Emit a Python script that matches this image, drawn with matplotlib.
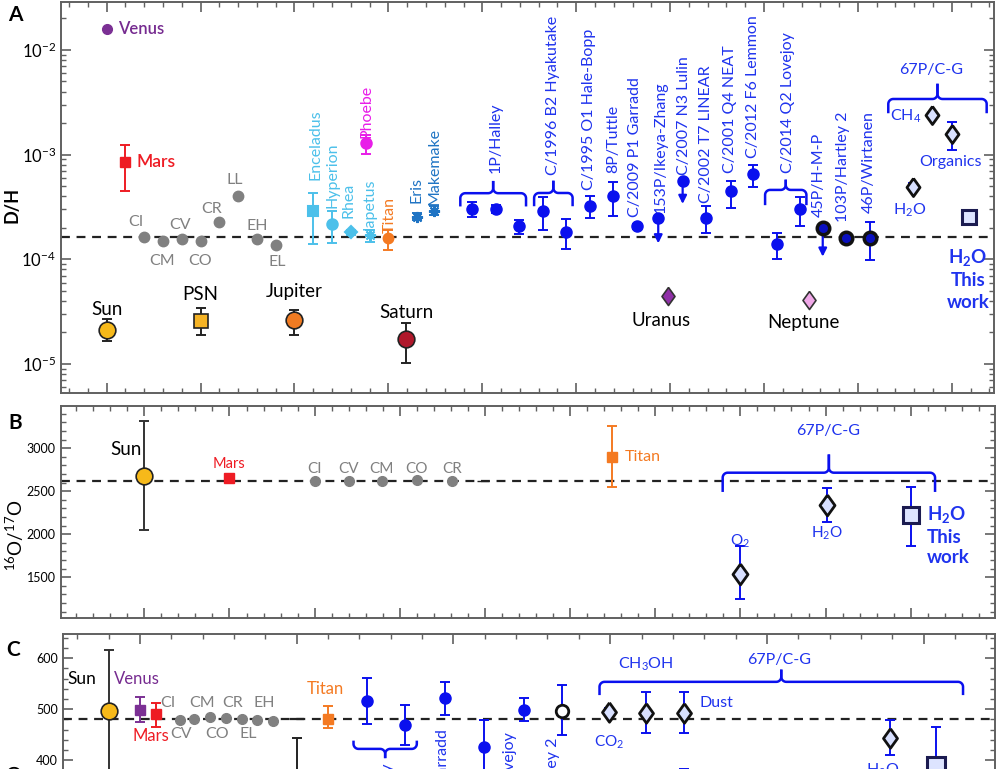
import numpy as np
import matplotlib
matplotlib.use('Agg')
import matplotlib.pyplot as plt
from matplotlib.transforms import IdentityTransform
from matplotlib.ticker import MultipleLocator, LogLocator, NullFormatter

plt.rcParams['font.family'] = ['Lato', 'DejaVu Sans']
plt.rcParams['mathtext.fontset'] = 'custom'
plt.rcParams['mathtext.rm'] = 'Lato'
plt.rcParams['mathtext.it'] = 'Lato:italic'
plt.rcParams['mathtext.bf'] = 'Lato:bold'

BLUE = '#0a10ee'
TBLUE = '#1f33ee'
GREY = '#808080'
LBLUE = '#4cc0ea'
DBLUE = '#1f74c4'
ORANGE = '#f47a22'
RED = '#ee1c24'
PURPLE = '#762b90'
FRAME = '#606060'

DIAM = [(0, 1), (0.72, 0), (0, -1), (-0.72, 0), (0, 1)]
H2O = r'H$_2$O'
H2O_BOLD = r'$\mathbf{H_2O}$'

# ---------------- panel A : D/H ----------------
big_names = ['Sun', 'PSN', 'Jupiter', 'Saturn']
big_x = [5, 10, 15, 20.94]
big_dh = [2.12e-5, 2.6e-5, 2.64e-5, 1.72e-5]
big_lo = [1.64e-5, 1.9e-5, 1.9e-5, 1.02e-5]
big_hi = [2.68e-5, 3.4e-5, 3.3e-5, 2.45e-5]
big_lab_y = [3.33e-5, 4.57e-5, 4.92e-5, 3.1e-5]

chon_names = ['CI', 'CM', 'CV', 'CO', 'CR', 'LL', 'EH', 'EL']
chon_x = [7, 8, 9, 10, 11, 12, 13, 14]
chon_dh = [1.65e-4, 1.48e-4, 1.57e-4, 1.48e-4, 2.26e-4, 4.04e-4, 1.56e-4, 1.37e-4]
chon_lab_dx = [-8, -1, -2, -1, -8, -3, 0, 2]
chon_lab_dy = [15, -20, 14, -20, 13, 16, 13, -17]

moon_names = ['Enceladus', 'Hyperion', 'Rhea', 'Iapetus', 'Titan', 'Phoebe', 'Eris', 'Makemake']
moon_x = [16, 17, 18, 19, 20, 18.8, 21.5, 22.45]
moon_dh = [2.92e-4, 2.16e-4, 1.82e-4, 1.69e-4, 1.59e-4, 1.30e-3, 2.56e-4, 2.92e-4]
moon_lo = [1.4e-4, 1.43e-4, 1.72e-4, 1.45e-4, 1.23e-4, 1.02e-3, 2.35e-4, 2.65e-4]
moon_hi = [4.3e-4, 2.9e-4, 1.92e-4, 1.92e-4, 1.91e-4, 1.54e-3, 2.75e-4, 3.2e-4]
moon_lab_x = [16.1, 17.05, 17.85, 18.98, 20.09, 18.84, 21.5, 22.48]
moon_lab_y = [5.73e-4, 3.08e-4, 2.48e-4, 1.91e-4, 1.79e-4, 1.43e-3, 3.46e-4, 3.31e-4]

venus_dh = 1.58e-2
mars_dh, mars_lo, mars_hi = 8.57e-4, 4.53e-4, 1.24e-3

comet_x = [24.47, 25.73, 26.95, 28.25, 29.46, 30.73, 31.94, 33.22, 34.37, 35.67,
           36.9, 38.23, 39.43, 40.71, 41.92]
comet_dh = [3.03e-4, 3.03e-4, 2.08e-4, 2.92e-4, 1.84e-4, 3.26e-4, 4.04e-4, 2.06e-4,
            2.47e-4, 5.61e-4, 2.47e-4, 4.53e-4, 6.55e-4, 1.40e-4, 3.0e-4]
comet_lo = [2.55e-4, 2.75e-4, 1.75e-4, 1.9e-4, 1.25e-4, 2.47e-4, 2.6e-4, 1.96e-4,
            1.42e-4, 3.38e-4, 1.8e-4, 3.1e-4, 4.9e-4, 1.0e-4, 2.1e-4]
comet_hi = [3.5e-4, 3.3e-4, 2.38e-4, 3.9e-4, 2.44e-4, 4.04e-4, 5.46e-4, 2.16e-4,
            2.47e-4, 5.61e-4, 3.2e-4, 5.6e-4, 7.9e-4, 1.8e-4, 3.9e-4]
comet_uplim = [0, 0, 0, 0, 0, 0, 0, 0, 1, 1, 0, 0, 0, 0, 0]

jfc_x = [43.13, 44.35, 45.64]
jfc_dh = [2.01e-4, 1.61e-4, 1.61e-4]
jfc_lo = [1.06e-4, 1.42e-4, 0.98e-4]
jfc_hi = [2.01e-4, 1.72e-4, 2.28e-4]
jfc_uplim = [1, 0, 0]

comet_labels = ['1P/Halley', 'C/1996 B2 Hyakutake', 'C/1995 O1 Hale-Bopp', '8P/Tuttle',
                'C/2009 P1 Garradd', '153P/Ikeya-Zhang', 'C/2007 N3 Lulin',
                'C/2002 T7 LINEAR', 'C/2001 Q4 NEAT', 'C/2012 F6 Lemmon',
                'C/2014 Q2 Lovejoy', '45P/H-M-P', '103P/Hartley 2', '46P/Wirtanen']
comet_lab_x = [25.72, 28.79, 30.68, 31.95, 33.15, 34.51, 35.74, 36.9, 38.17, 39.4,
               41.28, 42.94, 44.2, 45.56]
comet_lab_y = [6.64e-4, 6.4e-4, 4.6e-4, 6.64e-4, 2.56e-4, 2.76e-4, 6.4e-4, 3.43e-4,
               6.64e-4, 9.24e-4, 6.64e-4, 2.56e-4, 2.29e-4, 2.76e-4]

cg_names = [H2O, r'CH$_4$', 'Organics']
cg_x = [47.92, 48.96, 49.99]
cg_dh = [4.94e-4, 2.4e-3, 1.58e-3]
cg_lo = [4.6e-4, 2.3e-3, 1.11e-3]
cg_hi = [5.3e-4, 2.5e-3, 2.06e-3]
cg_lab_x = [47.75, 47.56, 49.93]
cg_lab_y = [2.97e-4, 2.31e-3, 8.57e-4]
this_x, this_dh = 50.93, 2.52e-4

ice_names = ['Uranus', 'Neptune']
ice_x = [34.87, 42.41]
ice_dh = [4.47e-5, 4.09e-5]
ice_lab_x = [34.54, 42.12]
ice_lab_y = [2.6e-5, 2.48e-5]

dh_ref = 1.63e-4

# ---------------- panel B : 16O/17O ----------------
b_sun = (0, 2678, 2050, 3320)
b_mars = (5, 2660)
b_chon_names = ['CI', 'CV', 'CM', 'CO', 'CR']
b_chon_x = [10, 12.0, 13.95, 16.0, 18.06]
b_chon_y = [2625, 2625, 2625, 2630, 2625]
b_tick = (19.9, 2620)
b_titan = (27.45, 2904, 2547, 3263)
b_cg_names = [r'O$_2$', H2O]
b_cg_x = [35.0, 40.1]
b_cg_y = [1538, 2337]
b_cg_lo = [1244, 2147]
b_cg_hi = [1864, 2535]
b_cg_lab_y = [1915, 2015]
b_this = (45.0, 2224, 1868, 2547)
b_ref = 2623

# ---------------- panel C : 16O/18O ----------------
c_sun = (-1, 497, 377, 617)
c_venus = (0, 499, 474, 523)
c_mars = (0.5, 490, 464, 513)
c_chon_x = [1.28, 1.73, 2.23, 2.74, 3.25, 3.74, 4.25]
c_chon_y = [478, 480, 485, 483, 480, 479, 476]
c_chon_names = ['CI', 'CV', 'CM', 'CO', 'CR', 'EL', 'EH']
c_chon_lab_x = [0.90, 1.30, 1.97, 2.45, 2.96, 3.46, 3.96]
c_chon_lab_up = [1, 0, 1, 0, 1, 0, 1]
c_black = (5.0, 481, 330, 444)
c_titan = (6.0, 481.5, 462, 506)
c_comet_x = [7.24, 8.46, 9.73, 10.96, 12.26]
c_comet_y = [516, 469, 521, 425, 498]
c_comet_lo = [471, 429, 488, 340, 477]
c_comet_hi = [561, 508, 554, 479, 521]
c_open = (13.46, 497, 449, 547)
c_cg_x = [14.95, 16.15, 17.36, 23.92, 17.36]
c_cg_y = [495, 492, 493, 444, 340]
c_cg_lo = [487, 453, 453, 409, 300]
c_cg_hi = [503, 533, 533, 478, 383]
c_this = (25.4, 389, 330, 464)
c_cut_labels = ['1P/Halley', 'C/2009 P1 Garradd', 'C/2014 Q2 Lovejoy', '103P/Hartley 2']
c_cut_x = [7.87, 9.68, 11.81, 13.19]
c_cut_top = [398, 461, 455, 444]
c_ref = 480.5

fig = plt.figure(figsize=(10, 7.69), dpi=100)
axA = fig.add_axes([0.0607, 0.4890, 0.9333, 0.5088])
axB = fig.add_axes([0.0607, 0.1964, 0.9343, 0.2757])
axC = fig.add_axes([0.0627, -0.0545, 0.9323, 0.2297])


def frame(ax):
    for s in ax.spines.values():
        s.set_color(FRAME)
        s.set_linewidth(1.4)
    ax.tick_params(which='both', direction='in', top=True, right=True, color=FRAME,
                   labelbottom=False)
    ax.tick_params(which='major', length=7, width=1.2)
    ax.tick_params(which='minor', length=3.5, width=1)
    ax.xaxis.set_major_locator(MultipleLocator(5))
    ax.xaxis.set_minor_locator(MultipleLocator(1))


def pt(ax, x, y, lo, hi, ecolor, **kw):
    ax.errorbar([x], [y], yerr=[[y - lo], [hi - y]], fmt='none', ecolor=ecolor,
                elinewidth=1.4, capsize=3.5, capthick=1.4, zorder=3)
    ax.plot([x], [y], linestyle='none', zorder=4, **kw)


def brace(ax, x0, x1, y, drop, peak, r=5, color=BLUE, lw=1.8):
    X0, Y = ax.transData.transform((x0, y))
    X1 = ax.transData.transform((x1, y))[0]
    XC = (X0 + X1) / 2
    s = np.sign(drop)
    d, p = abs(drop), abs(peak)
    t = np.linspace(0, np.pi / 2, 10)
    for Xa in (X0, X1):
        k = np.sign(XC - Xa)
        xs = [Xa] + list(Xa + k * r - k * r * np.cos(t)) + list(XC - k * r + k * r * np.sin(t)) + [XC]
        ys = [Y - s * d] + list(Y - s * r + s * r * np.sin(t)) + list(Y + s * r - s * r * np.cos(t)) + [Y + s * p]
        ax.add_line(plt.Line2D(xs, ys, transform=IdentityTransform(), color=color,
                               lw=lw, clip_on=False))


def uplim(ax, x, y, ylow, color):
    ax.annotate('', xy=(x, ylow), xytext=(x, y),
                arrowprops=dict(arrowstyle='-|>', color=color, lw=1.6,
                                mutation_scale=12, shrinkA=0, shrinkB=0), zorder=3)


# ================= A =================
ax = axA
frame(ax)
ax.set_yscale('log')
ax.set_xlim(2.55, 52.25)
ax.set_ylim(10 ** -5.277, 10 ** -1.539)
ax.yaxis.set_minor_locator(LogLocator(base=10, subs=np.arange(2, 10)))
ax.yaxis.set_minor_formatter(NullFormatter())
ax.tick_params(axis='y', labelsize=12)
ax.axhline(dh_ref, color='#222222', lw=1.6, ls=(0, (4, 3)), zorder=2)

big_face = ['#f6b91a', '#f5b325', '#f07b22', '#b0182b']
big_mark = ['o', 's', 'o', 'o']
big_ms = [12, 10.5, 12, 12]
for i in range(len(big_names)):
    pt(ax, big_x[i], big_dh[i], big_lo[i], big_hi[i], '#222222', marker=big_mark[i],
       ms=big_ms[i], mfc=big_face[i], mec='#222222', mew=1.2)
    ax.text(big_x[i], big_lab_y[i], big_names[i], ha='center', va='center', fontsize=13.5)

ax.plot([5], [venus_dh], 'o', ms=7, color='#7b3094', zorder=4)
ax.text(5.6, venus_dh, 'Venus', color=PURPLE, fontsize=12, va='center', fontweight='semibold')
pt(ax, 6, mars_dh, mars_lo, mars_hi, RED, marker='s', ms=7, color=RED)
ax.text(6.61, mars_dh, 'Mars', color=RED, fontsize=12.5, va='center', fontweight='semibold')

for i in range(len(chon_names)):
    ax.plot([chon_x[i]], [chon_dh[i]], 'o', ms=7.5, color=GREY, zorder=4)
    ax.annotate(chon_names[i], (chon_x[i], chon_dh[i]), xytext=(chon_lab_dx[i], chon_lab_dy[i]),
                textcoords='offset pixels', ha='center', va='center', color=GREY, fontsize=11.5)

moon_col = [LBLUE, LBLUE, LBLUE, LBLUE, ORANGE, '#e81ee8', DBLUE, DBLUE]
moon_mark = ['s', 'o', 'D', (8, 2, 0), 'o', 'o', (8, 2, 0), (8, 2, 0)]
moon_ms = [6.5, 7.5, 6, 8, 7, 7.5, 8, 8]
for i in range(len(moon_names)):
    pt(ax, moon_x[i], moon_dh[i], moon_lo[i], moon_hi[i], moon_col[i], marker=moon_mark[i],
       ms=moon_ms[i], color=moon_col[i], mew=1.5)
    ax.text(moon_lab_x[i], moon_lab_y[i], moon_names[i], rotation=90, ha='center', va='bottom',
            color=moon_col[i], fontsize=11.5)

for i in range(len(comet_x)):
    if comet_uplim[i]:
        uplim(ax, comet_x[i], comet_dh[i], comet_lo[i], BLUE)
        ax.plot([comet_x[i]], [comet_dh[i]], 'o', ms=8, color=BLUE, zorder=4)
    else:
        pt(ax, comet_x[i], comet_dh[i], comet_lo[i], comet_hi[i], BLUE, marker='o', ms=8, color=BLUE)
for i in range(len(jfc_x)):
    if jfc_uplim[i]:
        uplim(ax, jfc_x[i], jfc_dh[i], jfc_lo[i], BLUE)
        ax.plot([jfc_x[i]], [jfc_dh[i]], 'o', ms=9, mfc='#0a10c0', mec='#111111', mew=2.5, zorder=4)
    else:
        pt(ax, jfc_x[i], jfc_dh[i], jfc_lo[i], jfc_hi[i], BLUE, marker='o', ms=9,
           mfc='#0a10c0', mec='#111111', mew=2.5)
for i in range(len(comet_labels)):
    ax.text(comet_lab_x[i], comet_lab_y[i], comet_labels[i], rotation=90, ha='center',
            va='bottom', color=TBLUE, fontsize=11.5)

for i in range(len(cg_x)):
    pt(ax, cg_x[i], cg_dh[i], cg_lo[i], cg_hi[i], BLUE, marker=DIAM, ms=13,
       mfc='#d8e0ff', mec='#111111', mew=2)
    ax.text(cg_lab_x[i], cg_lab_y[i], cg_names[i], ha='center', va='center', color=TBLUE,
            fontsize=11.5)
ax.text(48.92, 6.44e-3, '67P/C-G', ha='center', va='center', color=TBLUE, fontsize=11.5)
ax.plot([this_x], [this_dh], 's', ms=10, mfc='#dde4ff', mec='#1b1b50', mew=2.2, zorder=4)
ax.text(50.86, 6.5e-5, H2O_BOLD + '\nThis\nwork', ha='center', va='center', color=TBLUE,
        fontsize=13.5, fontweight='bold', linespacing=1.3)

ice_col = ['#9030a8', '#f0a8e8']
for i in range(len(ice_x)):
    ax.plot([ice_x[i]], [ice_dh[i]], marker=DIAM, ms=13, mfc=ice_col[i], mec='#333333',
            mew=1.2, zorder=4)
    ax.text(ice_lab_x[i], ice_lab_y[i], ice_names[i], ha='center', va='center', fontsize=13.5)

brace(ax, 23.83, 27.33, 4.28e-4, 12, 11)
brace(ax, 27.76, 29.81, 4.3e-4, 12, 11)
brace(ax, 40.06, 42.26, 4.6e-4, 14, 9)
brace(ax, 46.62, 51.86, 3.4e-3, 13, 14)

# ================= B =================
ax = axB
frame(ax)
ax.set_xlim(-4.91, 49.95)
ax.set_ylim(1027, 3492)
ax.yaxis.set_major_locator(MultipleLocator(500))
ax.yaxis.set_minor_locator(MultipleLocator(100))
ax.tick_params(axis='y', labelsize=9)
ax.axhline(b_ref, color='#222222', lw=1.6, ls=(0, (4, 3)), zorder=2)

pt(ax, b_sun[0], b_sun[1], b_sun[2], b_sun[3], '#333333', marker='o', ms=12,
   mfc='#f6b91a', mec='#222222', mew=1.2)
ax.text(-1.07, 2985, 'Sun', ha='center', va='center', fontsize=13.5)
ax.plot([b_mars[0]], [b_mars[1]], 's', ms=6.5, color=RED, zorder=4)
ax.text(b_mars[0], 2820, 'Mars', ha='center', va='center', color=RED, fontsize=10.5)
for i in range(len(b_chon_x)):
    ax.plot([b_chon_x[i]], [b_chon_y[i]], 'o', ms=7, color=GREY, zorder=4)
    ax.text(b_chon_x[i], 2760, b_chon_names[i], ha='center', va='center', color=GREY, fontsize=11)
ax.errorbar([b_tick[0]], [b_tick[1]], yerr=[[15], [15]], fmt='_', color='#222222', ms=8,
            elinewidth=1.2, zorder=3)
pt(ax, b_titan[0], b_titan[1], b_titan[2], b_titan[3], ORANGE, marker='s', ms=6.5, color=ORANGE)
ax.text(28.2, b_titan[1], 'Titan', ha='left', va='center', color=ORANGE, fontsize=11.5)
for i in range(len(b_cg_x)):
    pt(ax, b_cg_x[i], b_cg_y[i], b_cg_lo[i], b_cg_hi[i], BLUE, marker=DIAM, ms=15,
       mfc='#d8e0ff', mec='#111111', mew=2)
    ax.text(b_cg_x[i], b_cg_lab_y[i], b_cg_names[i], ha='center', va='center', color=TBLUE,
            fontsize=11)
pt(ax, b_this[0], b_this[1], b_this[2], b_this[3], BLUE, marker='s', ms=12,
   mfc='#dde4ff', mec='#1b1b50', mew=2.2)
ax.text(45.95, 1990, H2O_BOLD + '\nThis\nwork', ha='left', va='center', color=TBLUE,
        fontsize=13.5, fontweight='bold', linespacing=1.25)
ax.text(40.16, 3200, '67P/C-G', ha='center', va='center', color=TBLUE, fontsize=11.5)
brace(ax, 33.96, 46.43, 2716, 18, 17)

# ================= C =================
ax = axC
frame(ax)
ax.set_xlim(-2.47, 27.28)
ax.set_ylim(300, 647.2)
ax.yaxis.set_major_locator(MultipleLocator(100))
ax.yaxis.set_minor_locator(MultipleLocator(20))
ax.tick_params(axis='y', labelsize=9)
ax.axhline(c_ref, color='#222222', lw=1.6, ls=(0, (4, 3)), zorder=2)

pt(ax, c_sun[0], c_sun[1], c_sun[2], c_sun[3], '#333333', marker='o', ms=12,
   mfc='#f6b91a', mec='#222222', mew=1.2)
ax.text(-1.85, 559, 'Sun', ha='center', va='center', fontsize=12.5)
pt(ax, c_venus[0], c_venus[1], c_venus[2], c_venus[3], '#7b3094', marker='s', ms=6.5, color='#7b3094')
ax.text(-0.83, 559, 'Venus', ha='left', va='center', color=PURPLE, fontsize=12)
pt(ax, c_mars[0], c_mars[1], c_mars[2], c_mars[3], RED, marker='s', ms=6.5, color=RED)
ax.text(0.35, 447, 'Mars', ha='center', va='center', color=RED, fontsize=12)
for i in range(len(c_chon_x)):
    ax.plot([c_chon_x[i]], [c_chon_y[i]], 'o', ms=7, color=GREY, zorder=4)
for i in range(len(c_chon_names)):
    ax.text(c_chon_lab_x[i], 513 if c_chon_lab_up[i] else 451, c_chon_names[i],
            ha='center', va='center', color=GREY, fontsize=11.5)
pt(ax, c_black[0], c_black[1] - 150, c_black[2], c_black[3], '#222222', marker='none')
ax.plot([c_black[0]], [c_black[1]], '_', ms=10, mew=1.6, color='#222222', zorder=4)
pt(ax, c_titan[0], c_titan[1], c_titan[2], c_titan[3], ORANGE, marker='s', ms=6.5, color=ORANGE)
ax.text(5.9, 539, 'Titan', ha='center', va='center', color=ORANGE, fontsize=12)
for i in range(len(c_comet_x)):
    pt(ax, c_comet_x[i], c_comet_y[i], c_comet_lo[i], c_comet_hi[i], BLUE, marker='o', ms=8, color=BLUE)
pt(ax, c_open[0], c_open[1], c_open[2], c_open[3], BLUE, marker='o', ms=9,
   mfc='white', mec='#111111', mew=2)
for i in range(len(c_cg_x)):
    pt(ax, c_cg_x[i], c_cg_y[i], c_cg_lo[i], c_cg_hi[i], BLUE, marker=DIAM, ms=14,
       mfc='#d8e0ff', mec='#111111', mew=2)
pt(ax, c_this[0], c_this[1], c_this[2], c_this[3], BLUE, marker='s', ms=13,
   mfc='#dde4ff', mec='#1b1b50', mew=2.2)
for i in range(len(c_cut_labels)):
    ax.text(c_cut_x[i], c_cut_top[i], c_cut_labels[i], rotation=90, ha='center', va='top',
            color=TBLUE, fontsize=11.5)
ax.text(14.95, 434, r'CO$_2$', ha='center', va='center', color=TBLUE, fontsize=11)
ax.text(16.12, 588, r'CH$_3$OH', ha='center', va='center', color=TBLUE, fontsize=11.5)
ax.text(17.85, 512, 'Dust', ha='left', va='center', color=TBLUE, fontsize=11.5)
ax.text(20.4, 596, '67P/C-G', ha='center', va='center', color=TBLUE, fontsize=11.5)
ax.text(23.71, 396, H2O, ha='center', va='top', color=TBLUE, fontsize=11.5)
brace(ax, 14.66, 26.26, 553.7, 12, 11)
brace(ax, 6.81, 8.83, 421.9, -7, -8)

# labels of panels
fig.text(0.012, 1 - 205 / 769, 'D/H', rotation=90, ha='center', va='center',
         fontsize=13, fontweight='bold')
fig.text(0.015, 1 - 535 / 769, r'$^{16}$O/$^{17}$O', rotation=90, ha='center', va='center',
         fontsize=13.5)
fig.text(0.015, 1 - 800 / 769, r'$^{16}$O/$^{18}$O', rotation=90, ha='center', va='center',
         fontsize=13.5)
fig.text(0.008, 1 - 15 / 769, 'A', fontsize=15, fontweight='bold', va='center')
fig.text(0.008, 1 - 423 / 769, 'B', fontsize=15, fontweight='bold', va='center')
fig.text(0.006, 1 - 650 / 769, 'C', fontsize=15, fontweight='bold', va='center')

fig.savefig('out.png', dpi=100)
